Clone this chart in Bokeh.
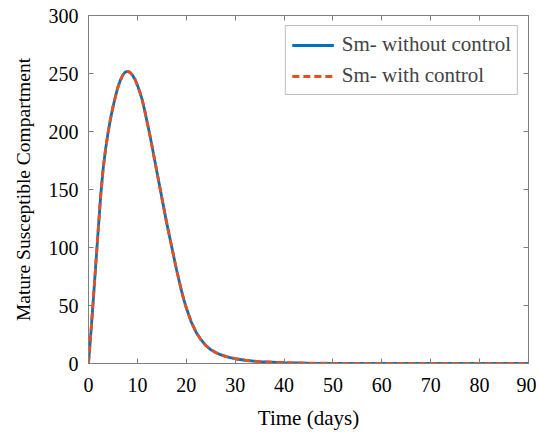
from bokeh.plotting import figure
from bokeh.models import LinearAxis, Range1d, FixedTicker, Legend, LegendItem
from bokeh.embed import file_html
from bokeh.resources import INLINE

time_days = [0, 0.5, 1, 1.5, 2, 2.5, 3, 3.5, 4, 4.5, 5, 5.5, 6, 6.5, 7, 7.5, 8,
             8.5, 9, 9.5, 10, 10.5, 11, 11.5, 12, 12.5, 13, 13.5, 14, 14.5, 15,
             15.5, 16, 16.5, 17, 17.5, 18, 18.5, 19, 19.5, 20, 21, 22, 23, 24, 25,
             26, 27, 28, 29, 30, 32, 35, 40, 45, 50, 60, 70, 80, 90]
sm_without_control = [0, 27, 56, 86, 116, 145, 168, 185, 199, 211, 221, 230, 238,
                      244, 248.5, 251.2, 251.8, 251, 248.5, 245, 240, 234, 227, 218,
                      208, 198, 187, 176, 165, 154, 143, 132, 121, 111, 101, 91, 81,
                      72, 63, 55, 48, 36, 27, 20.5, 15.5, 12, 9.5, 7.6, 6.1, 5, 4.1,
                      2.8, 1.6, 0.7, 0.35, 0.18, 0.05, 0.02, 0.01, 0.0]
sm_with_control = [0, 27, 56, 86, 116, 145, 168, 185, 199, 211, 221, 230, 238,
                   244, 248.5, 251.2, 251.8, 251, 248.5, 245, 240, 234, 227, 218,
                   208, 198, 187, 176, 165, 154, 143, 132, 121, 111, 101, 91, 81,
                   72, 63, 55, 48, 36, 27, 20.5, 15.5, 12, 9.5, 7.6, 6.1, 5, 4.1,
                   2.8, 1.6, 0.7, 0.35, 0.18, 0.05, 0.02, 0.01, 0.0]
x_ticks = [0, 10, 20, 30, 40, 50, 60, 70, 80, 90]
y_ticks = [0, 50, 100, 150, 200, 250, 300]

FONT = "Liberation Serif"
AXIS_COLOR = "#7f7f7f"
FS = "20px"
FS_LABEL = "21px"

p = figure(width=536, height=434, output_backend="svg", toolbar_location=None,
           x_range=Range1d(0, 90), y_range=Range1d(0, 300),
           min_border_left=88, min_border_right=8, min_border_top=15,
           min_border_bottom=71)
p.background_fill_color = "white"
p.border_fill_color = "white"
p.outline_line_color = AXIS_COLOR
p.outline_line_width = 1
p.xgrid.visible = False
p.ygrid.visible = False

r1 = p.line(time_days, sm_without_control, line_color="#0072BD", line_width=2.8)
r2 = p.line(time_days, sm_with_control, line_color="#E5501E", line_width=2.8,
            line_dash="7 4")

def style(ax, ticks):
    ax.ticker = FixedTicker(ticks=ticks)
    ax.axis_line_color = AXIS_COLOR
    ax.major_tick_line_color = AXIS_COLOR
    ax.major_tick_in = 5
    ax.major_tick_out = 0
    ax.minor_tick_line_color = None
    ax.major_label_text_font = FONT
    ax.major_label_text_font_size = FS
    ax.major_label_text_color = "black"
    ax.axis_label_text_font = FONT
    ax.axis_label_text_font_size = FS_LABEL
    ax.axis_label_text_font_style = "normal"
    ax.axis_label_text_color = "black"

xa = p.xaxis[0]
ya = p.yaxis[0]
style(xa, x_ticks)
style(ya, y_ticks)
xa.axis_label = "Time (days)"
ya.axis_label = "Mature Susceptible Compartment"
ya.axis_label_text_font_size = "19.5px"
xa.major_label_standoff = 14
ya.major_label_standoff = 10
xa.axis_label_standoff = 11
ya.axis_label_standoff = 12

top = LinearAxis()
style(top, x_ticks)
top.major_label_overrides = {t: "" for t in x_ticks}
top.major_label_standoff = 0
p.add_layout(top, "above")

right = LinearAxis()
style(right, y_ticks)
right.major_label_overrides = {t: "" for t in y_ticks}
right.major_label_standoff = 0
p.add_layout(right, "right")

legend = Legend(items=[LegendItem(label="Sm- without control", renderers=[r1]),
                       LegendItem(label="Sm- with control", renderers=[r2])],
                location="top_right")
legend.label_text_font = FONT
legend.label_text_font_size = FS_LABEL
legend.border_line_color = AXIS_COLOR
legend.border_line_width = 1
legend.background_fill_color = "white"
legend.background_fill_alpha = 1
legend.glyph_width = 42
legend.glyph_height = 20
legend.label_standoff = 8
legend.padding = 6
legend.spacing = 6
legend.margin = 10
legend.label_height = 22
p.add_layout(legend)

open("out.html", "w").write(file_html(p, INLINE))
